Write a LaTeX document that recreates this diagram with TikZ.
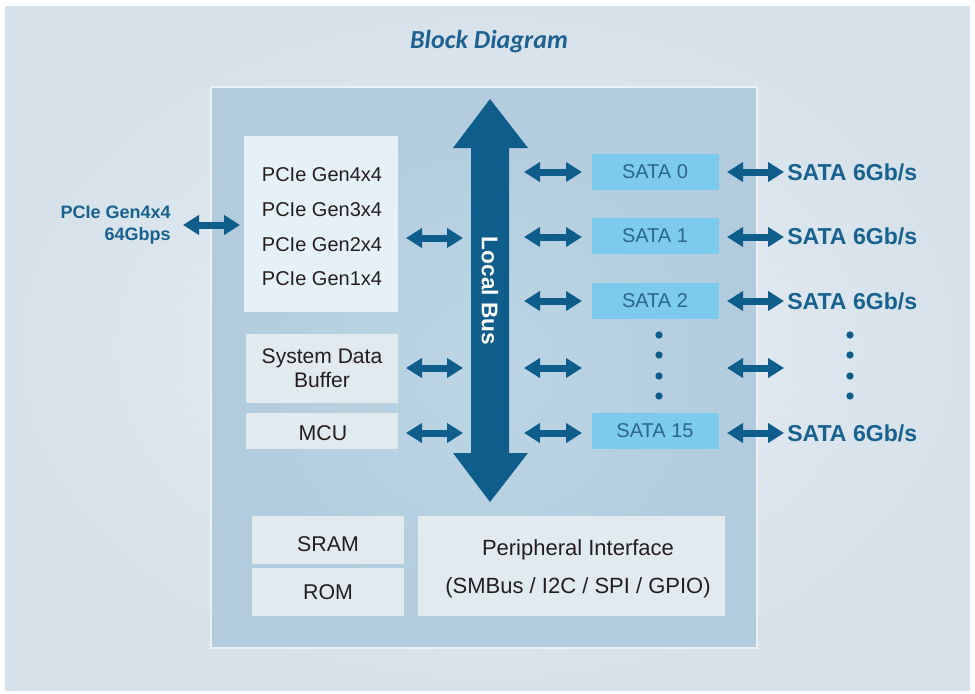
\documentclass[tikz,border=0pt]{standalone}
\usepackage{fontspec}
\setmainfont{Liberation Sans}
\newfontfamily\titlefont{Carlito}
\usetikzlibrary{arrows.meta,shadows}
\definecolor{bgin}{HTML}{EBF0F5}
\definecolor{bgout}{HTML}{D6E1EA}
\definecolor{chipin}{HTML}{BDD6E6}
\definecolor{chipout}{HTML}{B3CCDD}
\definecolor{chipedge}{HTML}{EAF0F4}
\definecolor{pciefill}{HTML}{E5F1F6}
\definecolor{boxfill}{HTML}{E1EAEE}
\definecolor{satafill}{HTML}{7CCBEE}
\definecolor{busblue}{HTML}{0E5D8B}
\definecolor{txt}{HTML}{231F20}
\definecolor{satatxt}{HTML}{2B6690}
\definecolor{lblblue}{HTML}{18628F}
\definecolor{titleblue}{HTML}{1F6292}
\begin{document}
\begin{tikzpicture}[x=0.75pt,y=-0.75pt,
  blk/.style={fill=boxfill, inner sep=0pt, align=center, text=txt,
    font=\fontsize{15.8}{18}\selectfont},
  btxt/.style={inner sep=0pt, align=center, text=txt,
    font=\fontsize{16}{18}\selectfont},
  satabox/.style={fill=satafill, inner sep=0pt, text=satatxt,
    minimum width=95.25pt, minimum height=27pt, font=\fontsize{15}{16}\selectfont},
  dbl/.style={line width=5.25pt, draw=busblue,
    {Triangle[length=12pt,width=14.25pt]}-{Triangle[length=12pt,width=14.25pt]}},
  satalbl/.style={anchor=west, inner sep=0pt, text=lblblue,
    font=\bfseries\fontsize{17.3}{19}\selectfont},
  dot/.style={circle, fill=busblue, inner sep=0pt, minimum size=5.5pt}
]
\useasboundingbox (0,0) rectangle (975,693);
\fill[white] (0,0) rectangle (975,693);
\shade[inner color=bgin, outer color=bgout] (5,6) rectangle (970,690);

% title
\node[font=\titlefont\bfseries\itshape\fontsize{19.5}{22}\selectfont, text=titleblue]
  (title) at (489,42) {Block Diagram};

% chip outline
\node[draw=chipedge, line width=1.5pt, inner color=chipin, outer color=chipout,
  minimum width=409.5pt, minimum height=420.75pt,
  drop shadow={shadow xshift=1pt, shadow yshift=-1pt, opacity=0.35, fill=black!60}]
  (chip) at (483.5,367.5) {};

% local bus arrow
\fill[busblue] (490,99) -- (528,148) -- (509,148) -- (509,453) -- (528,453)
  -- (490,502) -- (453,453) -- (471,453) -- (471,148) -- (453,148) -- cycle;
\node[rotate=-90, text=white, font=\bfseries\fontsize{17}{20}\selectfont]
  (bus) at (490,291) {Local Bus};

% left blocks
\node[blk, fill=pciefill, minimum width=115.5pt, minimum height=132pt] (pcie) at (321,224) {};
\node[btxt, font=\fontsize{15}{26}\selectfont] (pcietxt) at (322,227)
  {PCIe Gen4x4\\PCIe Gen3x4\\PCIe Gen2x4\\PCIe Gen1x4};
\node[blk, minimum width=114pt, minimum height=51.75pt] (sdb) at (322,368.5)
  {System Data\\Buffer};
\node[blk, minimum width=114pt, minimum height=27pt] (mcu) at (322,431) {};
\node[btxt] (mcutxt) at (323,433.5) {MCU};

% bottom blocks
\node[blk, minimum width=114pt, minimum height=36pt] (sram) at (328,540) {};
\node[btxt] (sramtxt) at (328,544.5) {SRAM};
\node[blk, minimum width=114pt, minimum height=36pt] (rom) at (328,591.5) {};
\node[btxt] (romtxt) at (328,592.5) {ROM};
\node[blk, minimum width=230.25pt, minimum height=75pt] (periph) at (571.5,566) {};
\node[btxt, font=\fontsize{16.5}{28.5}\selectfont] (periphtxt) at (578,569)
  {Peripheral Interface\\(SMBus / I2C / SPI / GPIO)};

% SATA blocks
\node[satabox] (s0) at (655,172) {SATA 0};
\node[satabox, xshift=0pt] (s1) at (655,236) {SATA 1};
\node[satabox] (s2) at (655,301) {SATA 2};
\node[satabox] (s15) at (655,431) {SATA 15};

% dots
\foreach \yy [count=\i] in {335,355,376,396} {
  \node[dot] (md\i) at (659,\yy) {};
  \node[dot] (rd\i) at (850,\yy) {};
}

% external labels
\node[anchor=east, align=right, inner sep=0pt, text=lblblue,
  font=\bfseries\fontsize{13.5}{17}\selectfont] (pcieext) at (171,225)
  {PCIe Gen4x4\\64Gbps};
\node[satalbl] (l0) at (787,172) {SATA 6Gb/s};
\node[satalbl] (l1) at (787,236) {SATA 6Gb/s};
\node[satalbl] (l2) at (787,301) {SATA 6Gb/s};
\node[satalbl] (l15) at (787,433) {SATA 6Gb/s};

% arrow end coordinates
\coordinate (pa1) at (183,225); \coordinate (pa2) at (240,225);
\coordinate (la1) at (406,238); \coordinate (la2) at (463,238);
\coordinate (lb1) at (406,368); \coordinate (lb2) at (463,368);
\coordinate (lc1) at (406,433); \coordinate (lc2) at (463,433);
\foreach \yy [count=\i] in {172,237,301,368,433} {
  \coordinate (ra\i) at (524,\yy); \coordinate (rb\i) at (582,\yy);
  \coordinate (oa\i) at (727,\yy); \coordinate (ob\i) at (784,\yy);
}
\draw[dbl] (pa1) -- (pa2);
\draw[dbl] (la1) -- (la2);
\draw[dbl] (lb1) -- (lb2);
\draw[dbl] (lc1) -- (lc2);
\foreach \i in {1,...,5} {
  \draw[dbl] (ra\i) -- (rb\i);
  \draw[dbl] (oa\i) -- (ob\i);
}
\end{tikzpicture}
\end{document}
